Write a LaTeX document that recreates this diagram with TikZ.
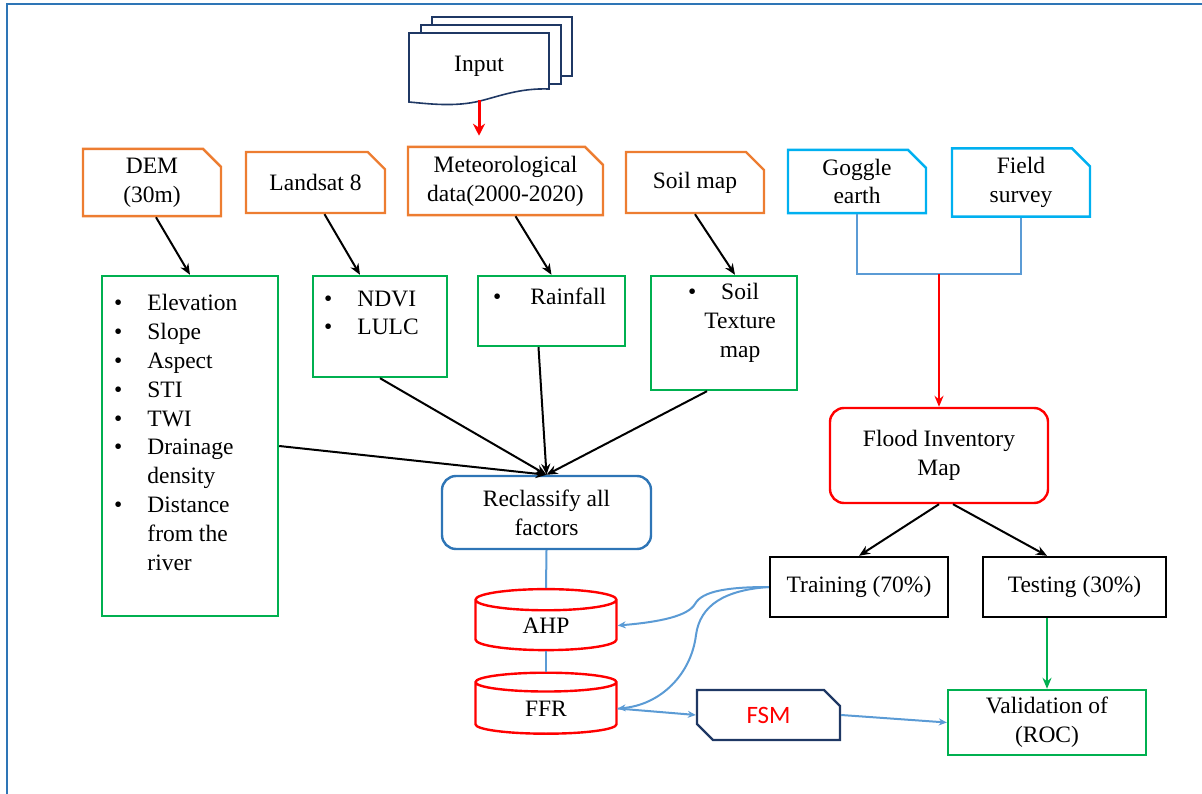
\documentclass[tikz,border=0pt]{standalone}
\usepackage{fontspec}
\setmainfont{LiberationSerif}[Extension=.ttf, UprightFont=*-Regular, BoldFont=*-Bold, ItalicFont=*-Italic]
\newfontfamily\boxfont{LiberationSerif}[Extension=.ttf, UprightFont=*-Regular]
\newfontfamily\fsmfont{Carlito}
\usetikzlibrary{shapes.misc, shapes.geometric, arrows.meta}

\definecolor{cOrange}{HTML}{ED7D31}
\definecolor{cCyan}{HTML}{00B0F0}
\definecolor{cGreen}{HTML}{00B050}
\definecolor{cBlue}{HTML}{2E75B6}
\definecolor{cNavy}{HTML}{1F3864}
\definecolor{cLink}{HTML}{5B9BD5}

\begin{document}
\begin{tikzpicture}[
        x=1pt, y=-1pt,
        >={Stealth[length=11pt,width=9pt]},
        every node/.style={font=\boxfont\fontsize{23.5}{28.8}\selectfont, inner sep=0pt},
        bxorange/.style={chamfered rectangle, chamfered rectangle corners=north east, chamfered rectangle sep=9pt, draw=cOrange, line width=2.4pt, fill=white, minimum height=61pt, align=center},
        bxcyan/.style={bxorange, draw=cCyan},
        bxgreen/.style={rectangle, draw=cGreen, line width=2.4pt, fill=white, align=center},
        bxblack/.style={rectangle, draw=black, line width=2.4pt, minimum height=60pt, align=center},
        bxround/.style={rectangle, rounded corners=14pt, line width=2.4pt, align=center},
        bxdb/.style={cylinder, shape border rotate=90, aspect=0.45, draw=red, line width=2.4pt, minimum width=141pt, minimum height=61pt},
        bxfsm/.style={chamfered rectangle, chamfered rectangle corners={north east, south west}, chamfered rectangle sep=8pt, draw=cNavy, line width=2.4pt, minimum width=143pt, minimum height=50pt, font=\fsmfont\fontsize{25}{30}\selectfont, text=red},
        lnblack/.style={->, line width=2pt},
        lnblue/.style={draw=cLink, line width=2pt},
        lnbluearr/.style={lnblue, -{Stealth[length=8pt,width=7pt]}},
        lnred/.style={->, draw=red, line width=2.4pt}
      ]

      \useasboundingbox (0,0) rectangle (1202,794);
      \draw[cBlue, line width=2pt] (7,794) -- (7,4) -- (1202,4);

      \draw[cNavy, line width=1.6pt, fill=white] (432,17) rectangle (572,76);
      \draw[cNavy, line width=1.6pt, fill=white] (421,25) rectangle (561,84);
      \draw[cNavy, line width=1.6pt, fill=white] (409,102) -- (409,33) -- (549,33) -- (549,89)
        .. controls (520,88) and (500,96) .. (480,101) .. controls (455,107) and (430,104) .. (409,102) -- cycle;
      \node[minimum width=140pt, minimum height=68pt] (input) at (479,66) {Input};

      \node[bxorange, minimum width=138pt] (dem) at (152,182.5) {DEM\\(30m)};
      \node[bxorange, minimum width=139pt] (land) at (315.5,182.5) {Landsat 8};
      \node[bxorange, minimum width=195pt, minimum height=62pt] (met) at (505.5,181) {Meteorological\\data(2000-2020)};
      \node[bxorange, minimum width=138pt] (soil) at (695,182.5) {Soil map};
      \node[bxcyan, minimum width=138pt] (goggle) at (857,181.5) {Goggle\\earth};
      \node[bxcyan, minimum width=138pt] (field) at (1021,182.5) {Field\\survey};

      \draw[lnred, line width=3pt, -{Stealth[length=12pt,width=12pt]}] (input.south) -- ([yshift=10pt]input.south |- met.north);

      \node[bxgreen, minimum width=176pt, minimum height=340pt] (topo) at (190,446) {};
      \node[anchor=base west] (topolist) at (114,311) {\begin{tabular}[t]{@{}l@{\hspace{25pt}}l@{}}
          \textbullet & Elevation\\
          \textbullet & Slope\\
          \textbullet & Aspect\\
          \textbullet & STI\\
          \textbullet & TWI\\
          \textbullet & Drainage\\
                      & density\\
          \textbullet & Distance\\
                      & from the\\
                      & river
        \end{tabular}};
      \node[bxgreen, minimum width=134pt, minimum height=101pt] (veg) at (380,326.5) {};
      \node[anchor=base west] (veglist) at (324,306) {\begin{tabular}[t]{@{}l@{\hspace{25pt}}l@{}}
          \textbullet & NDVI\\
          \textbullet & LULC
        \end{tabular}};
      \node[bxgreen, minimum width=147pt, minimum height=70pt] (rain) at (551.5,311) {};
      \node[anchor=base west] (rainlist) at (493,305) {\begin{tabular}[t]{@{}l@{\hspace{29pt}}l@{}}
          \textbullet & Rainfall
        \end{tabular}};
      \node[bxgreen, minimum width=146pt, minimum height=114pt] (soilt) at (724,333) {};
      \node[anchor=base west] (soillist) at (688,300) {\begin{tabular}[t]{@{}l@{\hspace{8pt}}c@{}}
          \textbullet & Soil\\
                      & Texture\\
                      & map
        \end{tabular}};

      \draw[lnblack] ([xshift=4pt]dem.south) -- (topo.north);
      \draw[lnblack] ([xshift=9pt]land.south) -- ([xshift=-20pt]veg.north);
      \draw[lnblack] ([xshift=10pt]met.south) -- (rain.north);
      \draw[lnblack] (soil.south) -- ([xshift=11pt]soilt.north);

      \node[bxround, draw=cBlue, minimum width=209pt, minimum height=73pt] (reclass) at (546.5,512.5) {Reclassify all\\factors};
      \draw[lnblack] (topo.east) -- (reclass.north);
      \draw[lnblack] (veg.south) -- (reclass.north);
      \draw[lnblack] ([xshift=-13pt]rain.south) -- (reclass.north);
      \draw[lnblack] ([xshift=-17pt]soilt.south) -- (reclass.north);

      \node[bxdb] (ahp) at (546,625.5) {AHP};
      \node[bxdb] (ffr) at (546,708.5) {FFR};
      \draw[lnblue] (reclass.south) -- (ahp.north);
      \draw[lnblue] (ahp.south) -- (ffr.north);

      \coordinate (join) at (939,274);
      \draw[lnblue] (goggle.south) |- (join) -| (field.south);
      \node[bxround, draw=red, minimum width=218pt, minimum height=95pt] (flood) at (939,455.5) {Flood Inventory\\Map};
      \draw[lnred] (join) -- (flood.north);

      \node[bxblack, minimum width=178pt] (train) at (859,587) {Training (70\%)};
      \node[bxblack, minimum width=183pt] (test) at (1074.5,587) {Testing (30\%)};
      \node[bxgreen, minimum width=198pt, minimum height=65pt] (valid) at (1047,722.5) {Validation of\\(ROC)};
      \node[bxfsm] (fsm) at (768.5,715) {FSM};

      \draw[lnblack] (flood.south) -- (train.north);
      \draw[lnblack] ([xshift=14pt]flood.south) -- (valid.north |- test.north);
      \draw[->, draw=cGreen, line width=2pt] (valid.north |- test.south) -- (valid.north);

      \draw[lnbluearr] (train.west) .. controls (728,587) and (702,591) .. (695,604) .. controls (688,616) and (660,622) .. (ahp.east);
      \draw[lnbluearr] (train.west) .. controls (725,590) and (700,605) .. (696,635) .. controls (691,675) and (660,705) .. (ffr.east);
      \draw[lnbluearr] (ffr.east) -- (fsm.west);
      \draw[lnbluearr] (fsm.east) -- (valid.west);

    \end{tikzpicture}
\end{document}
